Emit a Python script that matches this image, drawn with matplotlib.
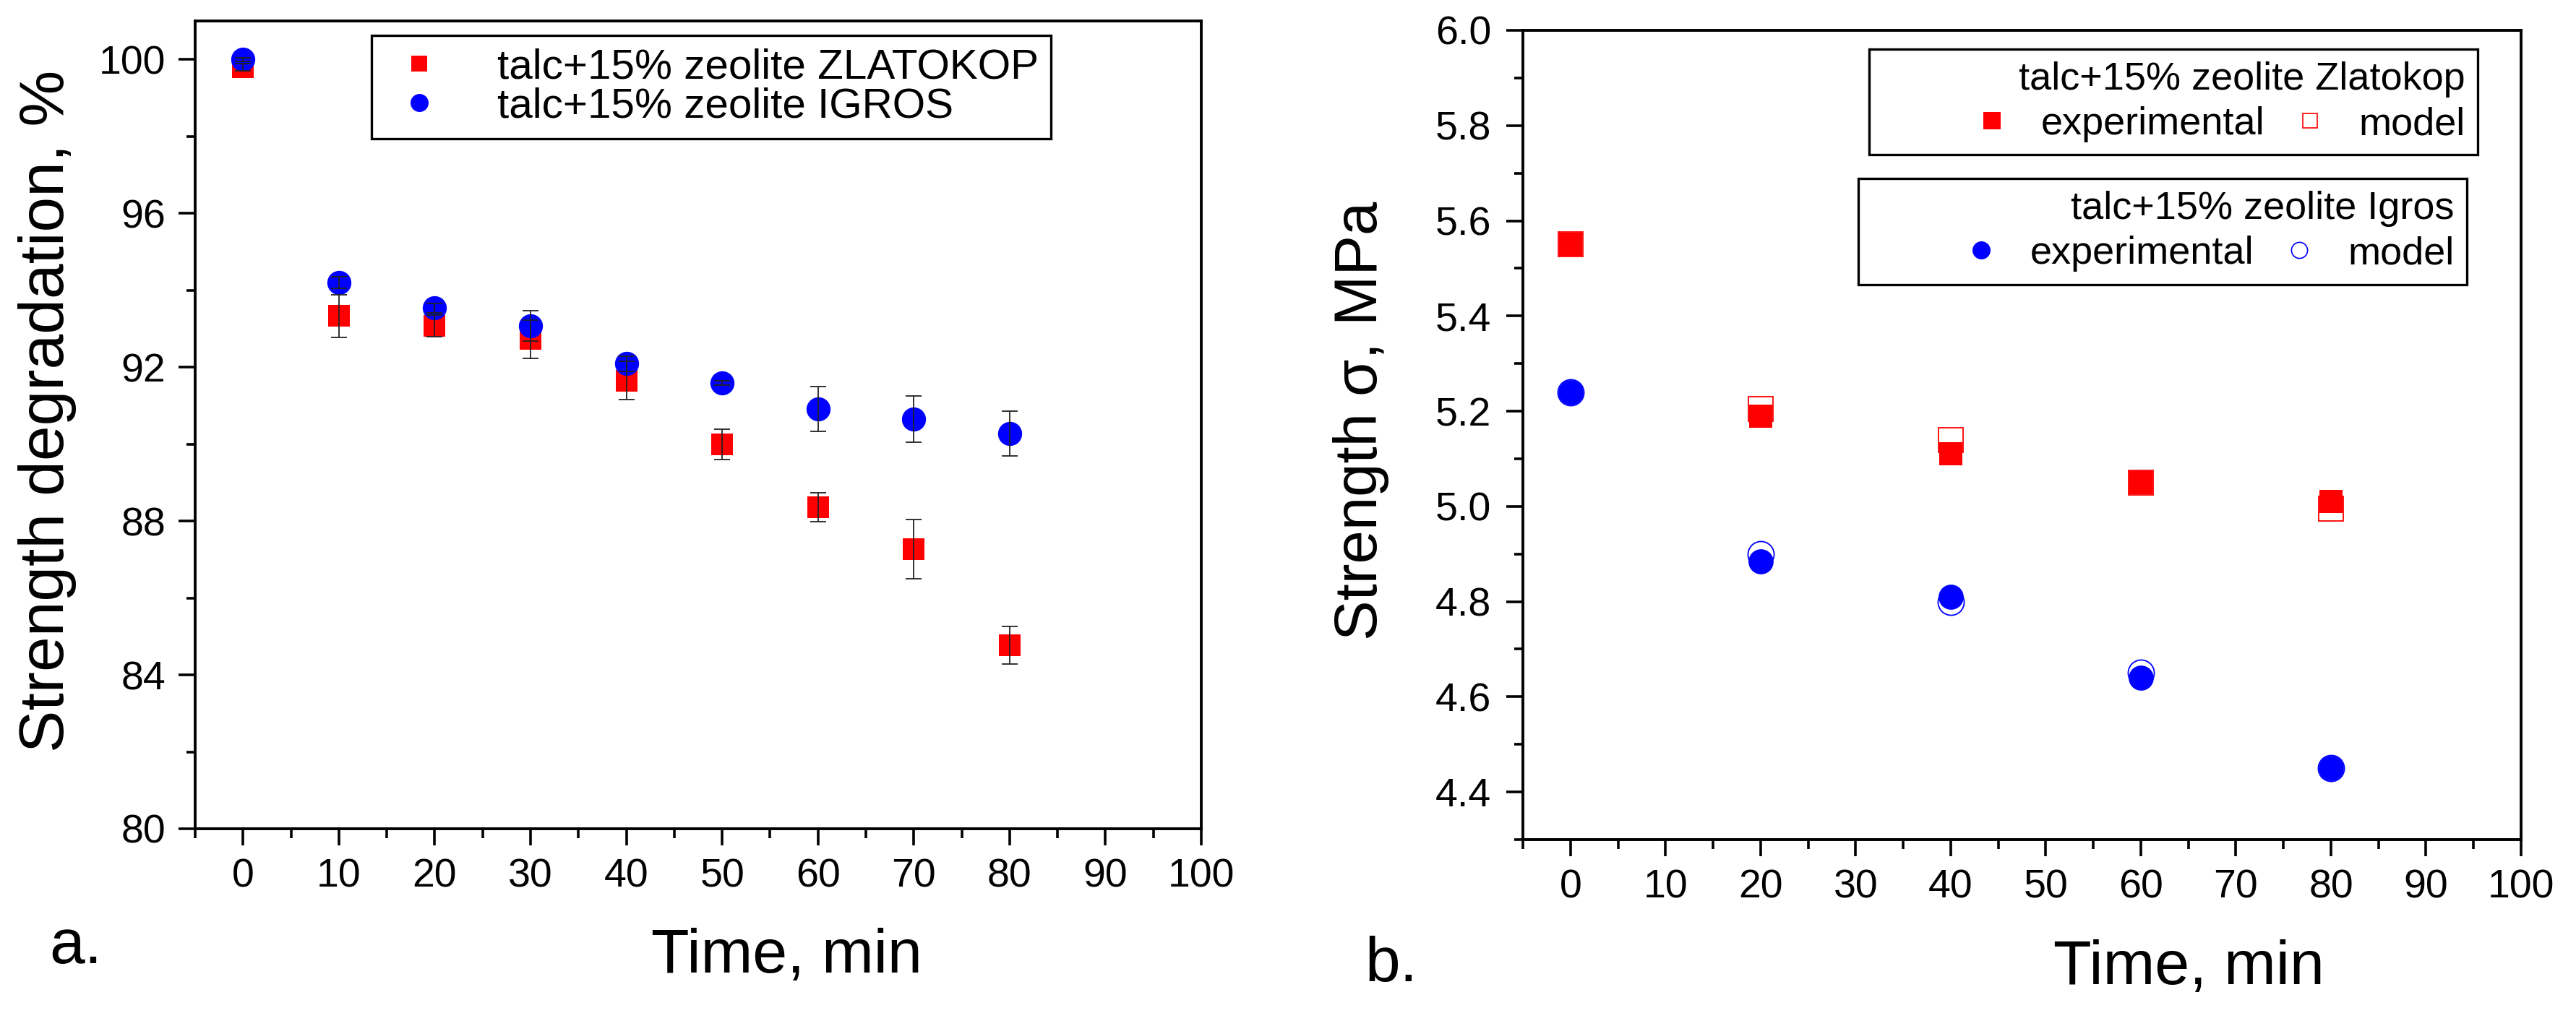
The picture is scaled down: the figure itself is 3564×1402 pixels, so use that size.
import matplotlib
matplotlib.use("Agg")
import matplotlib.pyplot as plt
from matplotlib.lines import Line2D
from matplotlib.ticker import MultipleLocator, FormatStrFormatter

plt.rcParams['font.family'] = ['Liberation Sans', 'DejaVu Sans']

# ---- data, panel a (strength degradation, %) ----
time_a = [0, 10, 20, 30, 40, 50, 60, 70, 80]
zlat_a = [99.8, 93.33, 93.07, 92.73, 91.65, 89.99, 88.36, 87.27, 84.77]
zlat_a_err = [0.1, 0.55, 0.28, 0.5, 0.5, 0.39, 0.38, 0.77, 0.49]
igros_a = [100.0, 94.2, 93.54, 93.07, 92.09, 91.59, 90.91, 90.65, 90.27]
igros_a_err = [0.05, 0.15, 0.12, 0.39, 0.2, 0.05, 0.58, 0.6, 0.58]

# ---- data, panel b (strength sigma, MPa) ----
time_b = [0, 20, 40, 60, 80]
zlat_exp = [5.55, 5.19, 5.11, 5.05, 5.01]
zlat_mod = [5.55, 5.205, 5.14, 5.05, 4.995]
igros_exp = [5.24, 4.885, 4.81, 4.64, 4.45]
igros_mod = [5.24, 4.90, 4.80, 4.65, 4.45]

RED = '#ff0000'
BLUE = '#0000ff'
W, H = 3564, 1402

fig = plt.figure(figsize=(W / 100, H / 100), dpi=100)
ax1 = fig.add_axes([270 / W, 1 - 1147 / H, 1392 / W, 1118 / H])
ax2 = fig.add_axes([2107 / W, 1 - 1162 / H, 1381 / W, 1120 / H])


def style_axes(ax):
    for sp in ax.spines.values():
        sp.set_linewidth(2.8)
    ax.tick_params(which='both', direction='out', top=False, right=False,
                   width=2.6, labelsize=40, pad=13)
    ax.tick_params(which='major', length=16.5)
    ax.tick_params(which='minor', length=9)
    ax.xaxis.set_major_locator(MultipleLocator(10))
    ax.xaxis.set_minor_locator(MultipleLocator(5))
    ax.set_xlim(-5, 100)


# ---- panel a ----
ax1.plot(time_a, zlat_a, 's', color=RED, ms=22, mew=0, zorder=3,
         label='talc+15% zeolite ZLATOKOP')
ax1.plot(time_a, igros_a, 'o', color=BLUE, ms=24, mew=0, zorder=4,
         label='talc+15% zeolite IGROS')
ax1.errorbar(time_a, zlat_a, yerr=zlat_a_err, fmt='none', ecolor='#222222',
             elinewidth=1.3, capsize=8, capthick=1.3, zorder=5)
ax1.errorbar(time_a, igros_a, yerr=igros_a_err, fmt='none', ecolor='#222222',
             elinewidth=1.3, capsize=8, capthick=1.3, zorder=5)
style_axes(ax1)
ax1.set_ylim(80, 101)
ax1.yaxis.set_major_locator(MultipleLocator(4))
ax1.yaxis.set_minor_locator(MultipleLocator(2))
ax1.set_xlabel('Time, min', fontsize=62, va='baseline')
ax1.xaxis.set_label_coords(0.5876, -0.178)
ax1.set_ylabel('Strength degradation, %', fontsize=63, va='baseline')
ax1.yaxis.set_label_coords(-0.1307, 0.517)
leg1 = ax1.legend(loc='upper left', bbox_to_anchor=(0.1753, 0.982),
                  fontsize=42, frameon=True, fancybox=False, edgecolor='black',
                  framealpha=1, borderpad=0.3, handlelength=1.65,
                  handletextpad=1.03, labelspacing=0.0, borderaxespad=0,
                  markerscale=0.75)
leg1.get_frame().set_linewidth(2.4)

# ---- panel b ----
ax2.plot(time_b, zlat_mod, 's', mfc='white', mec=RED, ms=24, mew=1.3, zorder=3)
ax2.plot(time_b, zlat_exp, 's', color=RED, ms=23, mew=0, zorder=4)
ax2.plot(time_b, igros_mod, 'o', mfc='white', mec=BLUE, ms=26, mew=1.3, zorder=3)
ax2.plot(time_b, igros_exp, 'o', color=BLUE, ms=25, mew=0, zorder=4)
style_axes(ax2)
ax2.set_ylim(4.3, 6.0)
ax2.yaxis.set_major_locator(MultipleLocator(0.2))
ax2.yaxis.set_minor_locator(MultipleLocator(0.1))
ax2.yaxis.set_major_formatter(FormatStrFormatter('%.1f'))
ax2.tick_params(axis='y', which='major', pad=15)
ax2.set_xlabel('Time, min', fontsize=62, va='baseline')
ax2.xaxis.set_label_coords(0.667, -0.1786)
ax2.set_ylabel('Strength σ, MPa', fontsize=60, va='baseline')
ax2.yaxis.set_label_coords(-0.1463, 0.518)

blank = Line2D([], [], linestyle='none')
leg_kw = dict(fontsize=39, title_fontsize=39, ncol=3, frameon=True,
              fancybox=False, edgecolor='black', framealpha=1, borderpad=0.32,
              handlelength=0.8, handletextpad=0.85, columnspacing=0.76,
              borderaxespad=0, alignment='right', labelspacing=0.22)
h_zexp = Line2D([], [], linestyle='none', marker='s', color=RED, ms=17, mew=0)
h_zmod = Line2D([], [], linestyle='none', marker='s', mfc='white', mec=RED, ms=15, mew=1.2)
h_iexp = Line2D([], [], linestyle='none', marker='o', color=BLUE, ms=18, mew=0)
h_imod = Line2D([], [], linestyle='none', marker='o', mfc='white', mec=BLUE, ms=16, mew=1.2)

leg2 = ax2.legend([blank, h_zexp, h_zmod], ['', 'experimental', 'model'],
                  title='talc+15% zeolite Zlatokop', loc='upper right',
                  bbox_to_anchor=(0.9566, 0.977), **leg_kw)
leg2.get_frame().set_linewidth(2.4)
ax2.add_artist(leg2)
leg3 = ax2.legend([blank, h_iexp, h_imod], ['', 'experimental', 'model'],
                  title='talc+15% zeolite Igros', loc='upper right',
                  bbox_to_anchor=(0.9457, 0.817), **leg_kw)
leg3.get_frame().set_linewidth(2.4)

# panel letters
fig.text(68 / W, 1 - 1333 / H, 'a.', fontsize=63, va='baseline')
fig.text(1888 / W, 1 - 1358 / H, 'b.', fontsize=63, va='baseline')

fig.savefig('out.png', dpi=100)
